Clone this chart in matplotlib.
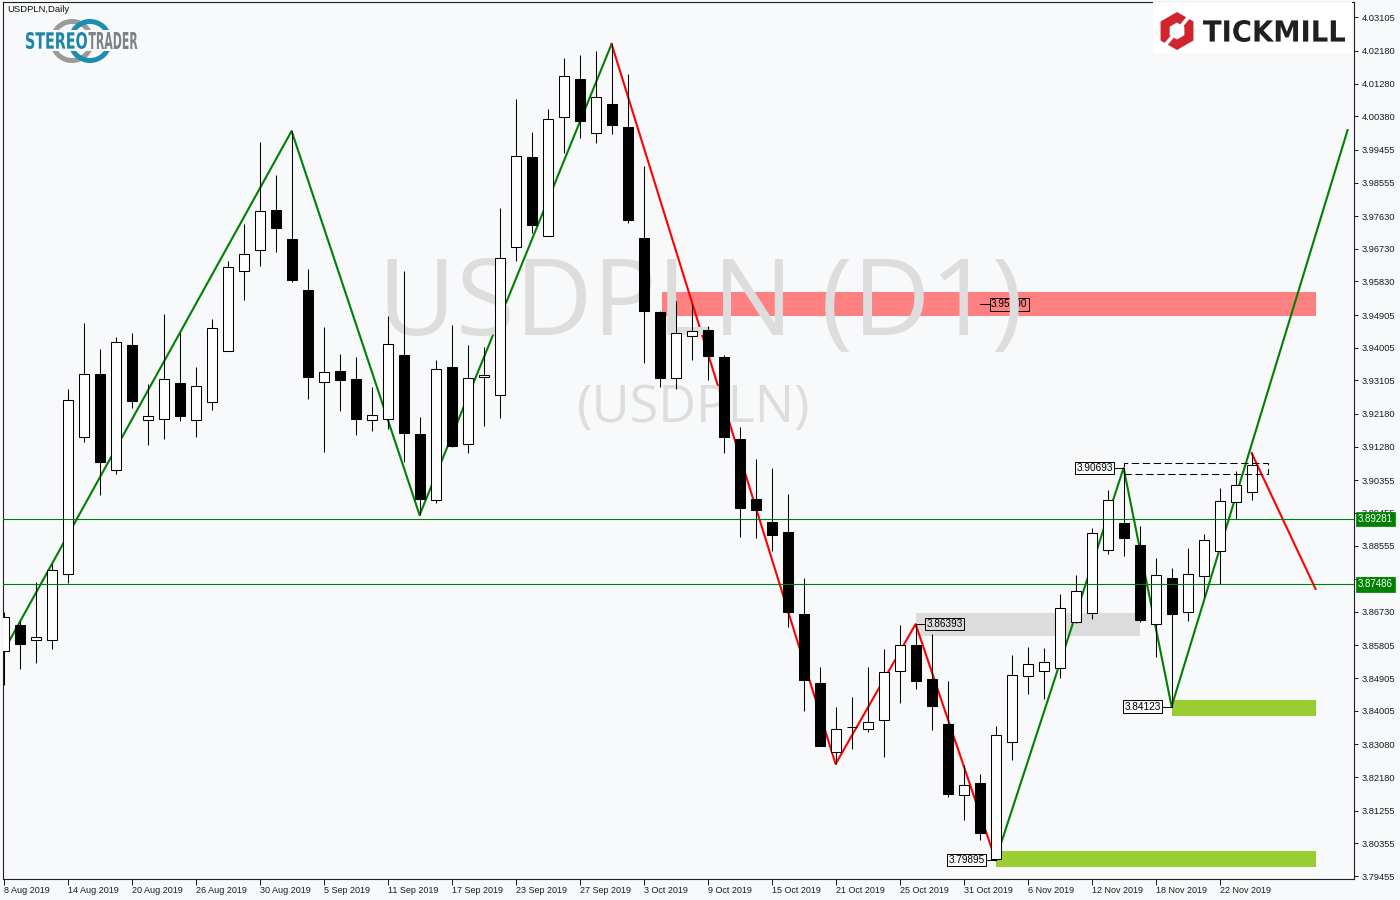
import matplotlib
matplotlib.use('Agg')
import matplotlib.pyplot as plt
from matplotlib.patches import Rectangle, PathPatch, Circle, RegularPolygon
from matplotlib.textpath import TextPath
from matplotlib.font_manager import FontProperties
from matplotlib.transforms import Affine2D, blended_transform_factory, ScaledTranslation
import numpy as np

plt.rcParams['font.family'] = ['Liberation Sans', 'DejaVu Sans']

# ---------------- data (USDPLN daily, 8 Aug 2019 .. 26 Nov 2019) ----------------
opens = [3.85652, 3.86368, 3.85955, 3.85955, 3.87773, 3.91546, 3.93281, 3.90637, 3.94080, 3.92014,
         3.92042, 3.93033, 3.92014, 3.92510, 3.93915, 3.96118, 3.96697, 3.97798, 3.96999, 3.95595,
         3.93061, 3.93364, 3.93144, 3.92014, 3.92042, 3.93805, 3.91629, 3.89811, 3.93474, 3.91353,
         3.93199, 3.92703, 3.96779, 3.99258, 3.97082, 4.00360, 4.01406, 3.99919, 4.00718, 4.00084,
         3.97027, 3.94989, 3.93171, 3.94328, 3.94493, 3.93750, 3.91491, 3.89839, 3.89205, 3.88930,
         3.86671, 3.84771, 3.82870, 3.83559, 3.83504, 3.83752, 3.85101, 3.85817, 3.84881, 3.83642,
         3.81686, 3.82017, 3.79923, 3.83146, 3.84964, 3.85101, 3.85184, 3.86451, 3.86699, 3.88434,
         3.89178, 3.88572, 3.86396, 3.87663, 3.86726, 3.87718, 3.88406, 3.89756, 3.90031]
highs = [3.86726, 3.86478, 3.87553, 3.88048, 3.92868, 3.94686, 3.93970, 3.94300, 3.94410, 3.93006,
         3.94934, 3.94410, 3.93474, 3.94796, 3.96394, 3.97413, 3.99671, 3.98762, 3.99974, 3.96173,
         3.94576, 3.93832, 3.93750, 3.92923, 3.94879, 3.96118, 3.92097, 3.93667, 3.94631, 3.94080,
         3.94025, 3.97853, 4.00855, 3.99947, 4.00580, 4.01985, 4.02067, 4.02177, 4.02370, 4.01544,
         3.99010, 3.95016, 3.95292, 3.95209, 3.94603, 3.93805, 3.91822, 3.90940, 3.90692, 3.89976,
         3.87663, 3.85211, 3.84110, 3.84385, 3.85211, 3.85707, 3.86368, 3.86393, 3.86120, 3.84826,
         3.82512, 3.82265, 3.83587, 3.85542, 3.85762, 3.85735, 3.87222, 3.87745, 3.89040, 3.90086,
         3.90693, 3.89095, 3.88214, 3.87938, 3.88489, 3.88875, 3.90142, 3.90610, 3.91106]
lows = [3.84716, 3.85156, 3.85322, 3.85707, 3.87525, 3.91408, 3.89949, 3.90527, 3.92345, 3.91326,
        3.91491, 3.91987, 3.91546, 3.92290, 3.93915, 3.95319, 3.96256, 3.96641, 3.95815, 3.92593,
        3.91133, 3.92262, 3.91601, 3.91711, 3.91767, 3.90858, 3.89398, 3.89728, 3.91271, 3.91106,
        3.91849, 3.92069, 3.96394, 3.97165, 3.97082, 3.99368, 3.99781, 3.99644, 3.99891, 3.97440,
        3.93584, 3.92923, 3.92868, 3.93667, 3.93116, 3.91106, 3.88792, 3.88764, 3.88406, 3.86313,
        3.84000, 3.83036, 3.82540, 3.82953, 3.83421, 3.82733, 3.84220, 3.84606, 3.83476, 3.81631,
        3.80998, 3.80447, 3.79895, 3.82650, 3.84468, 3.84330, 3.84908, 3.86423, 3.86534, 3.88324,
        3.88269, 3.86451, 3.85487, 3.84123, 3.86478, 3.87139, 3.87498, 3.89288, 3.89811]
closes = [3.86589, 3.85845, 3.86038, 3.87883, 3.92565, 3.93281, 3.90858, 3.94163, 3.92538, 3.92125,
          3.93144, 3.92125, 3.92951, 3.94548, 3.96228, 3.96586, 3.97771, 3.97302, 3.95870, 3.93199,
          3.93336, 3.93116, 3.92042, 3.92152, 3.94108, 3.91656, 3.89839, 3.93419, 3.91298, 3.93171,
          3.93254, 3.96476, 3.99285, 3.97385, 4.00305, 4.01489, 4.00249, 4.00910, 4.00139, 3.97523,
          3.95016, 3.93171, 3.94410, 3.94466, 3.93777, 3.91546, 3.89591, 3.89536, 3.88847, 3.86726,
          3.84853, 3.83036, 3.83504, 3.83559, 3.83697, 3.85074, 3.85817, 3.84826, 3.84137, 3.81714,
          3.81962, 3.80640, 3.83339, 3.84991, 3.85294, 3.85349, 3.86836, 3.87305, 3.88902, 3.89811,
          3.88764, 3.86506, 3.87745, 3.86671, 3.87773, 3.88709, 3.89784, 3.90224, 3.90775]

date_labels = ["8 Aug 2019", "14 Aug 2019", "20 Aug 2019", "26 Aug 2019", "30 Aug 2019",
               "5 Sep 2019", "11 Sep 2019", "17 Sep 2019", "23 Sep 2019", "27 Sep 2019",
               "3 Oct 2019", "9 Oct 2019", "15 Oct 2019", "21 Oct 2019", "25 Oct 2019",
               "31 Oct 2019", "6 Nov 2019", "12 Nov 2019", "18 Nov 2019", "22 Nov 2019"]
date_label_bars = list(range(0, 77, 4))

price_ticks = [4.03105, 4.02180, 4.01280, 4.00380, 3.99455, 3.98555, 3.97630, 3.96730, 3.95830,
               3.94905, 3.94005, 3.93105, 3.92180, 3.91280, 3.90355, 3.89455, 3.88555, 3.87630,
               3.86730, 3.85805, 3.84905, 3.84005, 3.83080, 3.82180, 3.81255, 3.80355, 3.79455]

zz_green1_bar = [-1, 18, 26, 38]
zz_green1_px = [3.8485, 3.99974, 3.89398, 4.02370]
zz_red_bar = [38, 52, 57, 62]
zz_red_px = [4.02370, 3.82540, 3.86393, 3.79895]
zz_green2_bar = [62, 70, 73, 84]
zz_green2_px = [3.79895, 3.90693, 3.84123, 4.00000]
proj_red_bar = [78, 82]
proj_red_px = [3.91106, 3.87360]

level_lines = [3.89281, 3.87486]

# zones: (bar_start, bar_end, price_low, price_high)
zone_red = (41.13, 82, 3.94874, 3.95534)
zone_grey = (57, 71, 3.86065, 3.86699)
zone_green1 = (73, 82, 3.83870, 3.84303)
zone_green2 = (62, 82, 3.79711, 3.80144)
dash_box = (70, 79, 3.90519, 3.90838)

# ---------------- figure ----------------
BG = '#f7f9fb'
fig = plt.figure(figsize=(14, 9), dpi=100, facecolor=BG)
L, R, T, B = 2.7, 1354, 2, 879
ax = fig.add_axes([L / 1400, 1 - B / 900, (R - L) / 1400, (B - T) / 900])
ax.set_facecolor(BG)
ax.set_xlim(-0.05625, 84.4)
ax.set_ylim(3.79373, 4.03527)

for s in ax.spines.values():
    s.set_color('#202020')
    s.set_linewidth(0.8)

# zones
for (x0, x1, p0, p1), col in [(zone_red, '#ff8080'), (zone_grey, '#dcdcdc'),
                               (zone_green1, '#9acd32'), (zone_green2, '#9acd32')]:
    ax.add_patch(Rectangle((x0, p0), x1 - x0, p1 - p0, facecolor=col, edgecolor='none', zorder=1))

# zigzag
ax.plot(zz_green1_bar, zz_green1_px, color='#008000', lw=1.5, zorder=2)
ax.plot(zz_red_bar, zz_red_px, color='#ff0000', lw=1.5, zorder=2)
ax.plot(zz_green2_bar, zz_green2_px, color='#008000', lw=1.5, zorder=2)
ax.plot(proj_red_bar, proj_red_px, color='#ff0000', lw=1.5, zorder=2)

LABFS = 7.2
# 3.95200 label (under watermark)
ax.plot([61.02, 61.65], [3.9520, 3.9520], color='black', lw=0.7, zorder=2.4)
ax.text(61.72, 3.9520, '3.95200', fontsize=LABFS, ha='left', va='center', zorder=2.5,
        bbox=dict(boxstyle='square,pad=0.12', fc='none', ec='black', lw=0.7))

# watermark
ax.text(700 / 1400, 1 - 335 / 900, 'USDPLN (D1)', transform=fig.transFigure, ha='center',
        va='baseline', fontsize=77, color='#dddddd', family='Open Sans', zorder=3)
ax.text(694 / 1400, 1 - 422 / 900, '(USDPLN)', transform=fig.transFigure, ha='center',
        va='baseline', fontsize=37.5, color='#dddddd', family='Open Sans', zorder=3)

# candles
idx = np.arange(len(opens))
o = np.array(opens); c = np.array(closes); h = np.array(highs); lo = np.array(lows)
ax.vlines(idx, lo, h, color='black', lw=0.75, zorder=4)
bottoms = np.minimum(o, c)
heights = np.abs(c - o)
colors = ['white' if cc >= oo else 'black' for oo, cc in zip(o, c)]
ax.bar(idx, heights, bottom=bottoms, width=0.62, color=colors, edgecolor='black',
       linewidth=0.75, zorder=5)

# dashed box
ax.add_patch(Rectangle((dash_box[0], dash_box[2]), dash_box[1] - dash_box[0],
                       dash_box[3] - dash_box[2], fill=False, edgecolor='black', lw=0.75,
                       linestyle=(0, (7, 3.5)), zorder=6))

# horizontal levels
for v in level_lines:
    ax.axhline(v, color='#008000', lw=0.8, zorder=6)

# swing labels
lab_kw = dict(fontsize=LABFS, va='center', zorder=7,
              bbox=dict(boxstyle='square,pad=0.12', fc='none', ec='black', lw=0.7))
ax.plot([69.4, 70], [3.90693, 3.90693], color='black', lw=0.7, zorder=7)
ax.text(69.33, 3.90693, '3.90693', ha='right', **lab_kw)
ax.plot([57, 57.6], [3.86393, 3.86393], color='black', lw=0.7, zorder=7)
ax.text(57.67, 3.86393, '3.86393', ha='left', **lab_kw)
ax.plot([72.4, 73], [3.84123, 3.84123], color='black', lw=0.7, zorder=7)
ax.text(72.33, 3.84123, '3.84123', ha='right', **lab_kw)
ax.plot([61.4, 62], [3.79895, 3.79895], color='black', lw=0.7, zorder=7)
ax.text(61.33, 3.79895, '3.79895', ha='right', **lab_kw)

# axes ticks
ax.yaxis.tick_right()
ax.set_yticks(price_ticks)
ax.set_yticklabels([f'{v:.5f}' for v in price_ticks])
ax.tick_params(axis='y', direction='out', length=3, width=0.7, pad=2.5, labelsize=6.7,
               colors='#1a1a1a')
ax.set_xticks(date_label_bars)
ax.set_xticklabels(date_labels)
ax.tick_params(axis='x', direction='out', length=4, width=0.7, pad=1, labelsize=6.5,
               colors='#1a1a1a')
off = ScaledTranslation(0.6 / 100, 0, fig.dpi_scale_trans)
for lbl in ax.get_xticklabels():
    lbl.set_horizontalalignment('left')
    lbl.set_transform(lbl.get_transform() + off)

# right-axis level tags
btr = blended_transform_factory(ax.transAxes, ax.transData)
for v in level_lines:
    ax.text(1.0 + 4 / 1351, v, f'{v:.5f}', transform=btr, ha='left', va='center',
            fontsize=7.0, color='white', zorder=20, clip_on=False,
            bbox=dict(boxstyle='square,pad=0.22', fc='#008000', ec='#008000', lw=0.5))

fig.text(7 / 1400, 1 - 10 / 900, 'USDPLN,Daily', fontsize=6.8, ha='left', va='center',
         color='#111111')

# ---------------- logos (overlay in pixel coordinates) ----------------
ov = fig.add_axes([0, 0, 1, 1], zorder=10)
ov.set_xlim(0, 1400)
ov.set_ylim(0, 900)
ov.axis('off')
ov.patch.set_alpha(0)


def fit_text(axx, s, x0, x1, ytop, ybot, color, family='DejaVu Sans', weight='bold'):
    tp = TextPath((0, 0), s, size=100, prop=FontProperties(family=family, weight=weight))
    bb = tp.get_extents()
    sx = (x1 - x0) / bb.width
    sy = (ybot - ytop) / bb.height
    tr = Affine2D().translate(-bb.x0, -bb.y0).scale(sx, sy).translate(x0, 900 - ybot)
    axx.add_patch(PathPatch(tr.transform_path(tp), fc=color, ec='none', zorder=5))


# StereoTrader
ov.add_patch(Circle((72, 900 - 41), 19.5, fill=False, ec='#9a9a9a', lw=3.6, zorder=2))
ov.add_patch(Circle((90, 900 - 41), 19.5, fill=False, ec='#1a8db0', lw=3.6, zorder=3))
ov.add_patch(Rectangle((22, 900 - 51), 122, 21, fc=BG, ec='none', zorder=4))
fit_text(ov, 'STEREO', 26, 87, 32, 49, '#1b86a8', family='DejaVu Sans')
fit_text(ov, 'TRADER', 88.5, 137.5, 32, 49, '#7f8285', family='DejaVu Sans')

# Tickmill
ov.add_patch(Rectangle((1153, 900 - 53), 1352 - 1153, 51, fc='white', ec='none', zorder=1))
ov.add_patch(RegularPolygon((1177, 900 - 31), 6, radius=19, orientation=0, fc='#d0252d',
                            ec='none', zorder=2))
ov.add_patch(RegularPolygon((1177, 900 - 31), 6, radius=8.5, orientation=0, fc='white',
                            ec='none', zorder=3))
for ang in (50, 230):
    a = np.deg2rad(ang)
    ov.plot([1177 + 7 * np.cos(a), 1177 + 21 * np.cos(a)],
            [900 - 31 + 7 * np.sin(a), 900 - 31 + 21 * np.sin(a)], color='white', lw=2.6,
            zorder=4, solid_capstyle='butt')
fit_text(ov, 'TICKMILL', 1203, 1345, 20, 42, '#231f20', family='DejaVu Sans')

fig.savefig('out.png', dpi=100, facecolor=BG)
